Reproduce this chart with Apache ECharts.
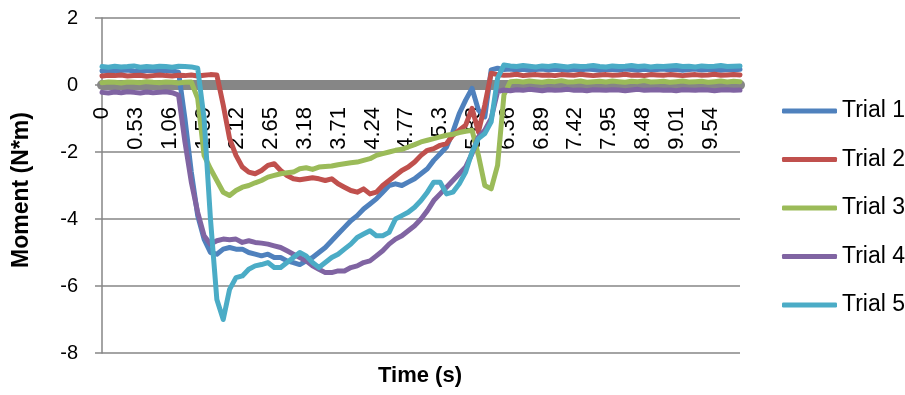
<!DOCTYPE html>
<html>
<head>
<meta charset="utf-8">
<script src="https://cdn.jsdelivr.net/npm/echarts@6/dist/echarts.min.js"></script>
<style>
    html, body { margin: 0; padding: 0; background: #ffffff; }
    #main { width: 905px; height: 395px; }
</style>
</head>
<body>
<div id="main"></div>
<script>
    // 时间 (s)，每 0.1 s 一个点
    var times = [
        0, 0.1, 0.2, 0.3, 0.4, 0.5, 0.6, 0.7, 0.8, 0.9,
        1, 1.1, 1.2, 1.3, 1.4, 1.5, 1.6, 1.7, 1.8, 1.9,
        2, 2.1, 2.2, 2.3, 2.4, 2.5, 2.6, 2.7, 2.8, 2.9,
        3, 3.1, 3.2, 3.3, 3.4, 3.5, 3.6, 3.7, 3.8, 3.9,
        4, 4.1, 4.2, 4.3, 4.4, 4.5, 4.6, 4.7, 4.8, 4.9,
        5, 5.1, 5.2, 5.3, 5.4, 5.5, 5.6, 5.7, 5.8, 5.9,
        6, 6.1, 6.2, 6.3, 6.4, 6.5, 6.6, 6.7, 6.8, 6.9,
        7, 7.1, 7.2, 7.3, 7.4, 7.5, 7.6, 7.7, 7.8, 7.9,
        8, 8.1, 8.2, 8.3, 8.4, 8.5, 8.6, 8.7, 8.8, 8.9,
        9, 9.1, 9.2, 9.3, 9.4, 9.5, 9.6, 9.7, 9.8, 9.9,
        10
    ];
    var trialNames = ['Trial 1', 'Trial 2', 'Trial 3', 'Trial 4', 'Trial 5'];
    var trialColors = ['#4F81BD', '#C0504D', '#9BBB59', '#8064A2', '#4BACC6'];

    var trial1 = [
        0.42, 0.44, 0.41, 0.43, 0.45, 0.42, 0.40, 0.43, 0.44, 0.41,
        0.43, 0.42, 0.38, -1.0, -2.6, -3.9, -4.6, -5.0, -5.05, -4.9,
        -4.85, -4.9, -4.9, -5.0, -5.05, -5.1, -5.05, -5.15, -5.15, -5.25,
        -5.3, -5.36, -5.25, -5.15, -5.0, -4.85, -4.65, -4.45, -4.25, -4.05,
        -3.9, -3.7, -3.55, -3.4, -3.2, -3.0, -2.95, -3.0, -2.9, -2.8,
        -2.65, -2.5, -2.25, -2.05, -1.85, -1.4, -0.85, -0.45, -0.1, -0.75,
        -0.95, 0.45, 0.5, 0.46, 0.48, 0.45, 0.47, 0.44, 0.46, 0.48,
        0.45, 0.47, 0.46, 0.44, 0.47, 0.45, 0.48, 0.46, 0.44, 0.47,
        0.46, 0.45, 0.48, 0.46, 0.44, 0.47, 0.45, 0.46, 0.48, 0.45,
        0.47, 0.44, 0.46, 0.48, 0.45, 0.46, 0.47, 0.44, 0.46, 0.45,
        0.47
    ];
    var trial2 = [
        0.27, 0.29, 0.28, 0.30, 0.27, 0.28, 0.29, 0.26, 0.28, 0.30,
        0.28, 0.27, 0.29, 0.28, 0.30, 0.27, 0.29, 0.31, 0.30, -0.6,
        -1.6, -2.1, -2.45, -2.6, -2.65, -2.55, -2.4, -2.35, -2.55, -2.7,
        -2.8, -2.83, -2.8, -2.77, -2.8, -2.85, -2.8, -2.95, -3.05, -3.15,
        -3.2, -3.1, -3.25, -3.2, -3.0, -2.85, -2.7, -2.55, -2.45, -2.3,
        -2.1, -1.95, -1.9, -1.8, -1.75, -1.5, -1.35, -1.2, -0.7, -1.4,
        -0.6, 0.35, 0.31, 0.29, 0.30, 0.32, 0.28, 0.30, 0.31, 0.29,
        0.30, 0.28, 0.31, 0.30, 0.29, 0.32, 0.30, 0.28, 0.30, 0.31,
        0.29, 0.30, 0.32, 0.29, 0.30, 0.28, 0.31, 0.30, 0.29, 0.31,
        0.30, 0.28, 0.30, 0.31, 0.29, 0.30, 0.32, 0.29, 0.30, 0.31,
        0.30
    ];
    var trial3 = [
        0.07, 0.09, 0.08, 0.06, 0.09, 0.08, 0.07, 0.10, 0.08, 0.07,
        0.09, 0.08, 0.06, 0.08, 0.09, -0.4, -2.1, -2.5, -2.85, -3.2,
        -3.3, -3.15, -3.05, -3.0, -2.92, -2.85, -2.75, -2.7, -2.65, -2.62,
        -2.6, -2.5, -2.47, -2.52, -2.45, -2.43, -2.42, -2.38, -2.35, -2.32,
        -2.3, -2.25, -2.2, -2.1, -2.05, -2.0, -1.95, -1.92, -1.85, -1.78,
        -1.7, -1.65, -1.6, -1.55, -1.5, -1.47, -1.42, -1.38, -1.35, -2.1,
        -3.0, -3.1, -2.4, -0.3, 0.1, 0.11, 0.09, 0.12, 0.10, 0.08,
        0.11, 0.10, 0.13, 0.09, 0.10, 0.12, 0.08, 0.10, 0.11, 0.09,
        0.12, 0.10, 0.08, 0.11, 0.10, 0.13, 0.09, 0.10, 0.11, 0.08,
        0.10, 0.12, 0.09, 0.10, 0.11, 0.08, 0.10, 0.12, 0.09, 0.11,
        0.10
    ];
    var trial4 = [
        -0.22, -0.24, -0.21, -0.23, -0.20, -0.22, -0.24, -0.21, -0.23, -0.22,
        -0.20, -0.23, -0.3, -1.7, -2.9, -3.8, -4.5, -4.75, -4.65, -4.6,
        -4.62, -4.6, -4.7, -4.65, -4.7, -4.72, -4.75, -4.8, -4.85, -4.95,
        -5.05, -5.15, -5.25, -5.4, -5.5, -5.6, -5.6, -5.55, -5.55, -5.45,
        -5.4, -5.3, -5.25, -5.1, -4.95, -4.75, -4.6, -4.5, -4.35, -4.2,
        -4.0, -3.75, -3.45, -3.25, -3.05, -2.85, -2.65, -2.45, -2.05, -1.55,
        -1.35, -1.0, -0.2, -0.15, -0.17, -0.14, -0.16, -0.13, -0.15, -0.17,
        -0.14, -0.16, -0.15, -0.13, -0.16, -0.15, -0.17, -0.14, -0.15, -0.16,
        -0.14, -0.15, -0.17, -0.15, -0.13, -0.16, -0.15, -0.14, -0.16, -0.15,
        -0.17, -0.14, -0.15, -0.16, -0.14, -0.15, -0.17, -0.15, -0.14, -0.16,
        -0.15
    ];
    var trial5 = [
        0.55, 0.53, 0.56, 0.54, 0.55, 0.57, 0.53, 0.55, 0.54, 0.56,
        0.55, 0.53, 0.56, 0.55, 0.54, 0.5, -1.0, -4.0, -6.4, -7.0,
        -6.1, -5.75, -5.7, -5.5, -5.4, -5.36, -5.3, -5.45, -5.45, -5.3,
        -5.15, -5.0, -5.1, -5.3, -5.45, -5.3, -5.15, -5.05, -4.9, -4.75,
        -4.55, -4.45, -4.35, -4.5, -4.5, -4.4, -4.0, -3.9, -3.8, -3.65,
        -3.45, -3.2, -2.9, -2.9, -3.25, -3.2, -2.95, -2.6, -2.0, -1.6,
        -1.45, -1.1, 0.2, 0.6, 0.57, 0.55, 0.58, 0.56, 0.54, 0.57,
        0.55, 0.58, 0.56, 0.54, 0.57, 0.55, 0.56, 0.58, 0.55, 0.54,
        0.57, 0.55, 0.56, 0.58, 0.55, 0.57, 0.54, 0.56, 0.55, 0.57,
        0.58, 0.55, 0.56, 0.54, 0.57, 0.55, 0.56, 0.58, 0.55, 0.56,
        0.57
    ];
    var trialValues = [trial1, trial2, trial3, trial4, trial5];

    var xTickStep = 0.53;
    var yTicks = { min: -8, max: 2, step: 2 };

    var font = '"Liberation Sans", Arial, sans-serif';

    // 绘图区
    var gridTop = 18, gridBottom = 42, chartHeight = 395;
    var plotHeight = chartHeight - gridTop - gridBottom;
    // x 轴放在 0 的位置（标签跟着轴线走）
    var zeroOffset = plotHeight * (0 - yTicks.min) / (yTicks.max - yTicks.min);

    function pairs(values) {
        return values.map(function (v, i) { return [times[i], v]; });
    }

    var chart = echarts.init(document.getElementById('main'));
    chart.setOption({
        animation: false,
        backgroundColor: '#ffffff',
        grid: {
            left: 102, right: 165, top: gridTop, bottom: gridBottom,
            containLabel: false,
            outerBoundsMode: 'none'
        },
        legend: {
            orient: 'vertical',
            left: 777,
            top: 94,
            itemWidth: 55,
            itemHeight: 5,
            itemGap: 24.5,
            icon: 'roundRect',
            textStyle: { fontFamily: font, fontSize: 23, color: '#000', lineHeight: 24 },
            data: trialNames
        },
        xAxis: {
            type: 'value',
            min: 0,
            max: 10,
            interval: xTickStep,
            position: 'bottom',
            offset: -zeroOffset,
            axisLine: { onZero: false, lineStyle: { color: '#868686', width: 10 } },
            axisTick: { show: false },
            splitLine: { show: false },
            axisLabel: {
                rotate: 90,
                margin: 22,
                showMaxLabel: false,
                fontFamily: font,
                fontSize: 22,
                color: '#000'
            }
        },
        yAxis: {
            type: 'value',
            min: yTicks.min,
            max: yTicks.max,
            interval: yTicks.step,
            axisLine: { show: true, lineStyle: { color: '#868686', width: 1.5 } },
            axisTick: { show: true, length: 7, lineStyle: { color: '#868686', width: 1.5 } },
            splitLine: { show: true, lineStyle: { color: '#868686', width: 1.5 } },
            axisLabel: { margin: 24, fontFamily: font, fontSize: 20, color: '#000' }
        },
        graphic: [
            {
                type: 'text', x: 420, y: 376,
                style: {
                    text: 'Time (s)', fill: '#000',
                    font: 'bold 22px ' + font,
                    align: 'center', verticalAlign: 'middle',
                    textAlign: 'center', textVerticalAlign: 'middle'
                }
            },
            {
                type: 'text', x: 22, y: 190, rotation: Math.PI / 2,
                style: {
                    text: 'Moment (N*m)', fill: '#000',
                    font: 'bold 23px ' + font,
                    align: 'center', verticalAlign: 'middle',
                    textAlign: 'center', textVerticalAlign: 'middle'
                }
            }
        ],
        series: trialNames.map(function (name, k) {
            return {
                name: name,
                type: 'line',
                symbol: 'none',
                color: trialColors[k],
                lineStyle: { width: 5, color: trialColors[k], cap: 'round', join: 'round' },
                data: pairs(trialValues[k])
            };
        })
    });
</script>
</body>
</html>
